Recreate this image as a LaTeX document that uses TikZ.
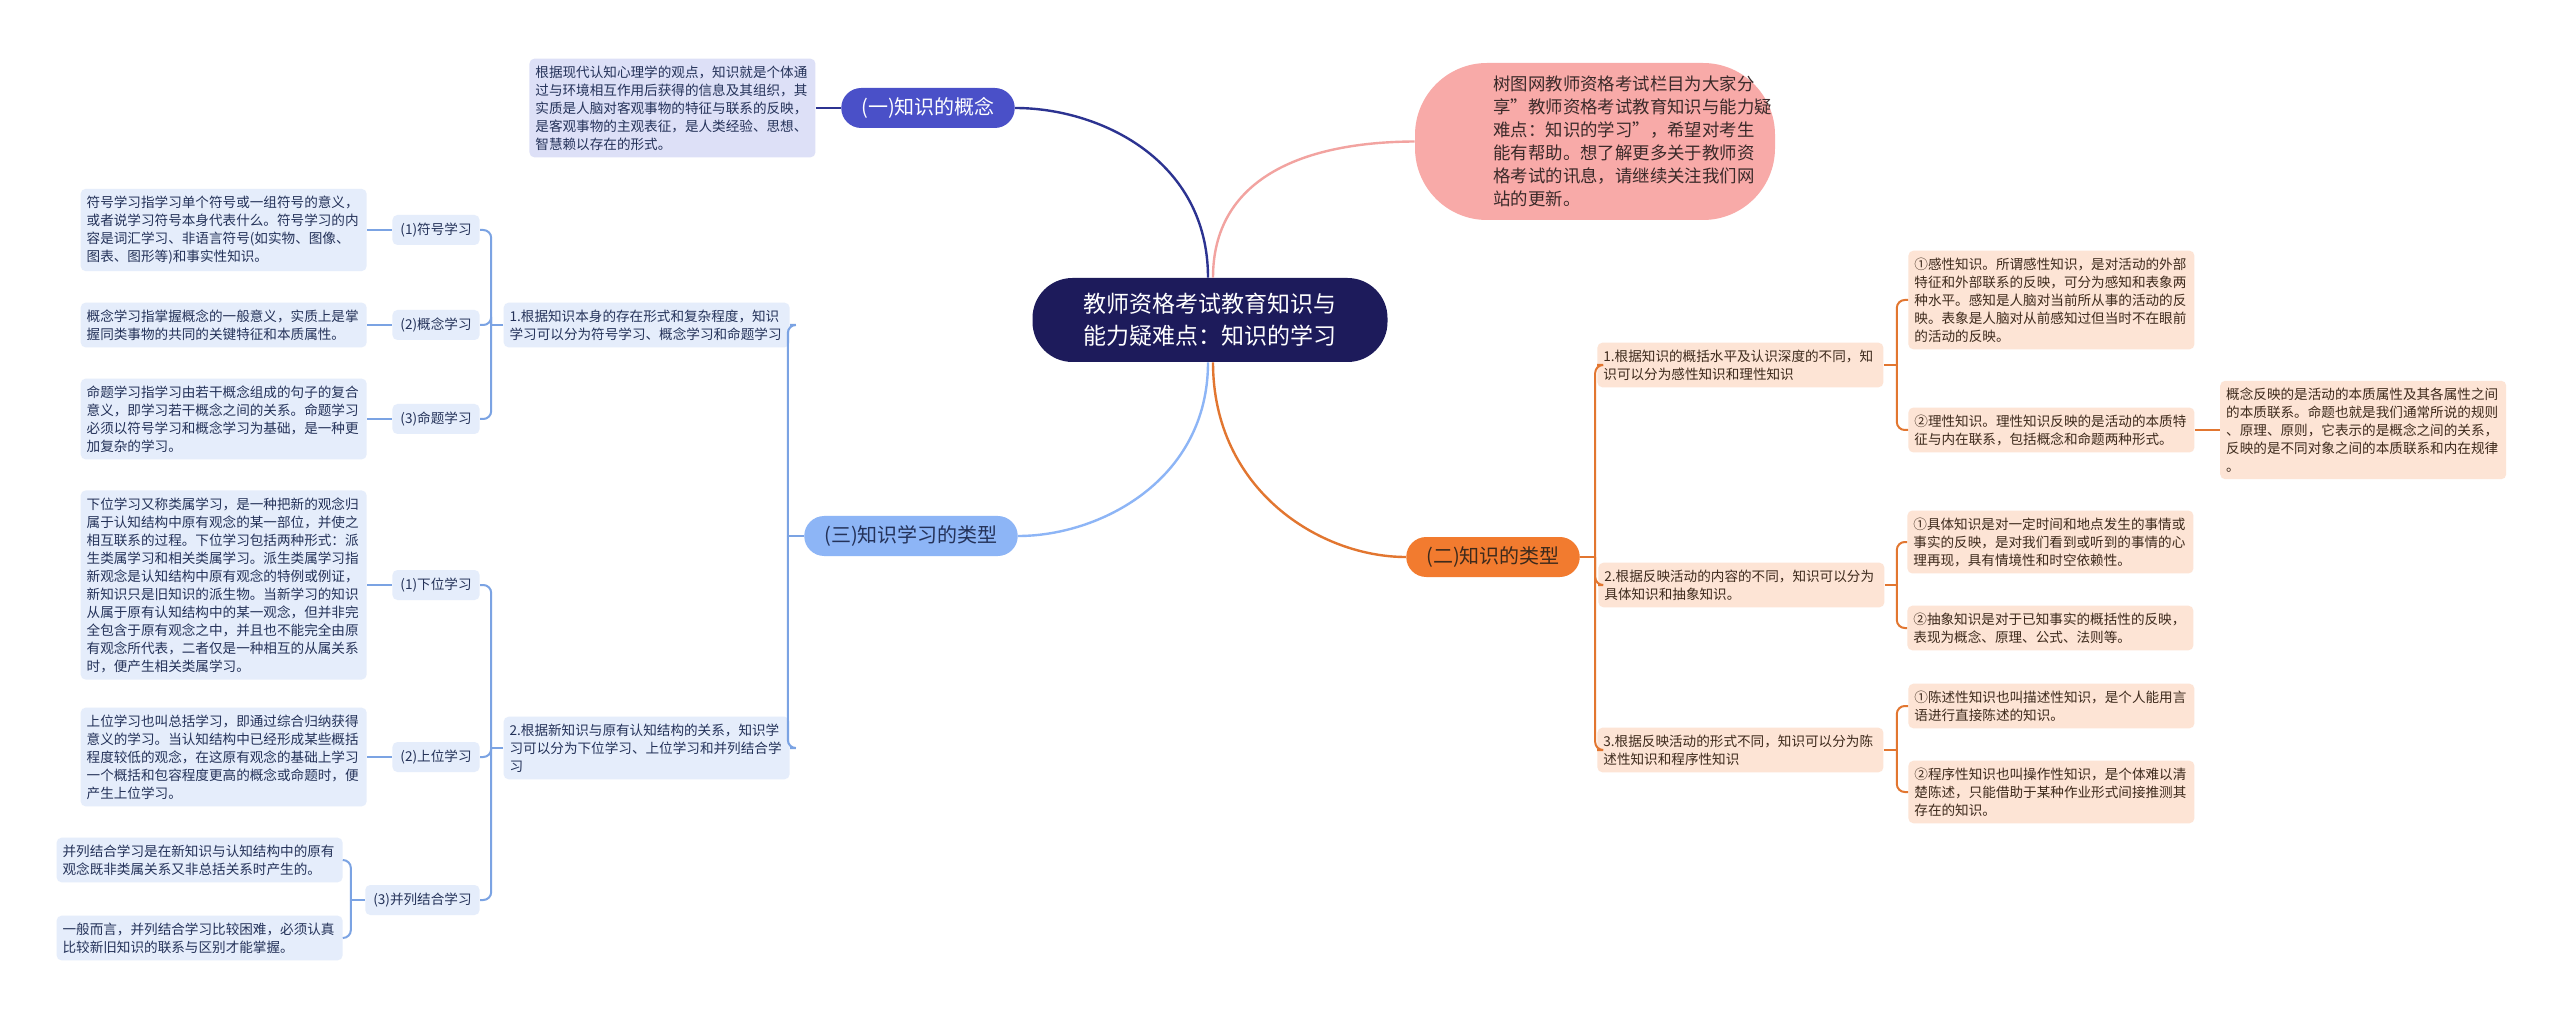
\documentclass[tikz,border=0pt]{standalone}
\usepackage{fontspec}
\setmainfont{Noto Sans CJK SC}
\usepackage{tikz}
\usetikzlibrary{positioning,calc}
\definecolor{rootnavy}{HTML}{1D1B5B}
\definecolor{intropink}{HTML}{F8AAA8}
\definecolor{introink}{HTML}{3B2A2A}
\definecolor{conceptfill}{HTML}{4A50C8}
\definecolor{conceptline}{HTML}{2C3391}
\definecolor{lavpale}{HTML}{DDE0F7}
\definecolor{typesfill}{HTML}{8DB5F6}
\definecolor{bluepale}{HTML}{E5EDFB}
\definecolor{blueline}{HTML}{7BA3E3}
\definecolor{blueink}{HTML}{243259}
\definecolor{kindsfill}{HTML}{F27B2F}
\definecolor{peachpale}{HTML}{FDE4D5}
\definecolor{orangeline}{HTML}{E27630}
\definecolor{peachink}{HTML}{3D2A1C}
\definecolor{pinkline}{HTML}{F2A3A0}
\newcommand{\notefont}{\fontsize{6.8}{9}\selectfont}
\newcommand{\branchfont}{\fontsize{10}{12}\selectfont}
\newcommand{\rootfont}{\fontsize{11.5}{16}\selectfont}
\newcommand{\introfont}{\fontsize{8.7}{11.5}\selectfont}

\begin{document}
\begin{tikzpicture}[
  x=0.5pt, y=-0.5pt,
  rootbox/.style={fill=rootnavy, text=white, rounded corners=20pt, align=center, font=\rootfont, minimum width=177.5pt, minimum height=42pt},
  introshape/.style={fill=intropink, rounded corners=36pt, minimum width=180pt, minimum height=78.5pt, inner sep=0pt},
  introtext/.style={align=left, font=\introfont, text=introink, inner sep=0pt},
  branch/.style={rounded corners=10pt, font=\branchfont, minimum height=20pt, inner xsep=10pt, inner ysep=0pt},
  lavnote/.style={fill=lavpale, text=blueink, rounded corners=2.5pt, font=\notefont, align=left, text width=137pt, inner xsep=3pt, inner ysep=3.5pt},
  bluenote/.style={lavnote, fill=bluepale},
  bluetag/.style={fill=bluepale, text=blueink, rounded corners=2.5pt, font=\notefont, minimum height=15pt, inner xsep=4pt, inner ysep=0pt},
  peachnote/.style={lavnote, fill=peachpale, text=peachink},
  navylink/.style={draw=conceptline, line width=1.2pt},
  pinklink/.style={draw=pinkline, line width=1.2pt},
  skylink/.style={draw=typesfill, line width=1.2pt},
  bluelink/.style={draw=blueline, line width=1pt, rounded corners=4pt},
  orangelink/.style={draw=orangeline, line width=1pt, rounded corners=4pt}
]
  \fill[white] (0,0) rectangle (2560,1021);
  \useasboundingbox (0,0) rectangle (2560,1021);

  \node[rootbox] (root) at (1210,320) {教师资格考试教育知识与\\能力疑难点：知识的学习};

  \node[introshape] (introbg) at (1595,141.5) {};
  \node[introtext, anchor=west] (intro) at (1493,141.5) {树图网教师资格考试栏目为大家分\\享"教师资格考试教育知识与能力疑\\难点：知识的学习"，希望对考生\\能有帮助。想了解更多关于教师资\\格考试的讯息，请继续关注我们网\\站的更新。};

  \node[branch, fill=conceptfill, text=white] (concept) at (928,108) {(一)知识的概念};
  \node[lavnote, left=12.5pt of concept] (conceptnote) {根据现代认知心理学的观点，知识就是个体通\\过与环境相互作用后获得的信息及其组织，其\\实质是人脑对客观事物的特征与联系的反映，\\是客观事物的主观表征，是人类经验、思想、\\智慧赖以存在的形式。};

  \node[branch, fill=typesfill, text=blueink] (types) at (911,536) {(三)知识学习的类型};
  \node[bluenote, anchor=east] (byshape) at (790,325) {1.根据知识本身的存在形式和复杂程度，知识\\学习可以分为符号学习、概念学习和命题学习};
  \node[bluenote, anchor=east] (byrelation) at (790,748) {2.根据新知识与原有认知结构的关系，知识学\\习可以分为下位学习、上位学习和并列结合学\\习};

  \node[bluetag, anchor=east] (symbolic) at (480,230) {(1)符号学习};
  \node[bluetag, anchor=east] (conceptual) at (480,325) {(2)概念学习};
  \node[bluetag, anchor=east] (propositional) at (480,419) {(3)命题学习};
  \node[bluenote, left=12.5pt of symbolic] (symbolicnote) {符号学习指学习单个符号或一组符号的意义，\\或者说学习符号本身代表什么。符号学习的内\\容是词汇学习、非语言符号(如实物、图像、\\图表、图形等)和事实性知识。};
  \node[bluenote, left=12.5pt of conceptual] (conceptualnote) {概念学习指掌握概念的一般意义，实质上是掌\\握同类事物的共同的关键特征和本质属性。};
  \node[bluenote, left=12.5pt of propositional] (propositionalnote) {命题学习指学习由若干概念组成的句子的复合\\意义，即学习若干概念之间的关系。命题学习\\必须以符号学习和概念学习为基础，是一种更\\加复杂的学习。};

  \node[bluetag, anchor=east] (subordinate) at (480,585) {(1)下位学习};
  \node[bluetag, anchor=east] (superordinate) at (480,757) {(2)上位学习};
  \node[bluetag, anchor=east] (combinatorial) at (480,900) {(3)并列结合学习};
  \node[bluenote, left=12.5pt of subordinate] (subordinatenote) {下位学习又称类属学习，是一种把新的观念归\\属于认知结构中原有观念的某一部位，并使之\\相互联系的过程。下位学习包括两种形式：派\\生类属学习和相关类属学习。派生类属学习指\\新观念是认知结构中原有观念的特例或例证，\\新知识只是旧知识的派生物。当新学习的知识\\从属于原有认知结构中的某一观念，但并非完\\全包含于原有观念之中，并且也不能完全由原\\有观念所代表，二者仅是一种相互的从属关系\\时，便产生相关类属学习。};
  \node[bluenote, left=12.5pt of superordinate] (superordinatenote) {上位学习也叫总括学习，即通过综合归纳获得\\意义的学习。当认知结构中已经形成某些概括\\程度较低的观念，在这原有观念的基础上学习\\一个概括和包容程度更高的概念或命题时，便\\产生上位学习。};
  \node[bluenote, anchor=east] (combinatorialnote) at (343,860) {并列结合学习是在新知识与认知结构中的原有\\观念既非类属关系又非总括关系时产生的。};
  \node[bluenote, anchor=east] (combinatorialhard) at (343,938) {一般而言，并列结合学习比较困难，必须认真\\比较新旧知识的联系与区别才能掌握。};

  \node[branch, fill=kindsfill, text=peachink] (kinds) at (1493,557) {(二)知识的类型};
  \node[peachnote, anchor=west] (bylevel) at (1597,365) {1.根据知识的概括水平及认识深度的不同，知\\识可以分为感性知识和理性知识};
  \node[peachnote, anchor=west] (bycontent) at (1598,585) {2.根据反映活动的内容的不同，知识可以分为\\具体知识和抽象知识。};
  \node[peachnote, anchor=west] (byform) at (1597,750) {3.根据反映活动的形式不同，知识可以分为陈\\述性知识和程序性知识};

  \node[peachnote, anchor=west] (perceptual) at (1908,300) {①感性知识。所谓感性知识，是对活动的外部\\特征和外部联系的反映，可分为感知和表象两\\种水平。感知是人脑对当前所从事的活动的反\\映。表象是人脑对从前感知过但当时不在眼前\\的活动的反映。};
  \node[peachnote, anchor=west] (rational) at (1908,430) {②理性知识。理性知识反映的是活动的本质特\\征与内在联系，包括概念和命题两种形式。};
  \node[peachnote, right=12.5pt of rational] (rationalnote) {概念反映的是活动的本质属性及其各属性之间\\的本质联系。命题也就是我们通常所说的规则\\、原理、原则，它表示的是概念之间的关系，\\反映的是不同对象之间的本质联系和内在规律\\。};
  \node[peachnote, anchor=west] (concrete) at (1907,542) {①具体知识是对一定时间和地点发生的事情或\\事实的反映，是对我们看到或听到的事情的心\\理再现，具有情境性和时空依赖性。};
  \node[peachnote, anchor=west] (abstract) at (1907,628) {②抽象知识是对于已知事实的概括性的反映，\\表现为概念、原理、公式、法则等。};
  \node[peachnote, anchor=west] (declarative) at (1908,706) {①陈述性知识也叫描述性知识，是个人能用言\\语进行直接陈述的知识。};
  \node[peachnote, anchor=west] (procedural) at (1908,792) {②程序性知识也叫操作性知识，是个体难以清\\楚陈述，只能借助于某种作业形式间接推测其\\存在的知识。};

  \draw[navylink] ($(root.north)+(-2,0)$) .. controls (1208,160) and (1100,108) .. (concept.east);
  \draw[pinklink] ($(root.north)+(3,0)$) .. controls (1213,180) and (1300,142) .. (introbg.west);
  \draw[skylink] ($(root.south)+(-2,0)$) .. controls (1208,480) and (1100,536) .. (types.east);
  \draw[orangeline, line width=1.2pt] ($(root.south)+(3,0)$) .. controls (1213,490) and (1320,557) .. (kinds.west);

  \draw[navylink] (conceptnote.east) -- (concept.west);

  \coordinate (typesjoin) at ($(types.west)+(-16,0)$);
  \draw[bluelink] (types.west) -- (typesjoin);
  \draw[bluelink] (byshape.east) -| (typesjoin);
  \draw[bluelink] (byrelation.east) -| (typesjoin);

  \coordinate (shapejoin) at ($(byshape.west)+(-12,0)$);
  \draw[bluelink] (byshape.west) -- (shapejoin);
  \draw[bluelink] (symbolic.east) -| (shapejoin);
  \draw[bluelink] (conceptual.east) -| (shapejoin);
  \draw[bluelink] (propositional.east) -| (shapejoin);
  \draw[bluelink] (symbolicnote.east) -- (symbolic.west);
  \draw[bluelink] (conceptualnote.east) -- (conceptual.west);
  \draw[bluelink] (propositionalnote.east) -- (propositional.west);

  \coordinate (relationjoin) at ($(byrelation.west)+(-12,0)$);
  \draw[bluelink] (byrelation.west) -- (relationjoin);
  \draw[bluelink] (subordinate.east) -| (relationjoin);
  \draw[bluelink] (superordinate.east) -| (relationjoin);
  \draw[bluelink] (combinatorial.east) -| (relationjoin);
  \draw[bluelink] (subordinatenote.east) -- (subordinate.west);
  \draw[bluelink] (superordinatenote.east) -- (superordinate.west);

  \coordinate (combjoin) at ($(combinatorial.west)+(-14,0)$);
  \draw[bluelink] (combinatorial.west) -- (combjoin);
  \draw[bluelink] (combinatorialnote.east) -| (combjoin);
  \draw[bluelink] (combinatorialhard.east) -| (combjoin);

  \coordinate (kindsjoin) at ($(kinds.east)+(15,0)$);
  \draw[orangelink] (kinds.east) -- (kindsjoin);
  \draw[orangelink] (bylevel.west) -| (kindsjoin);
  \draw[orangelink] (bycontent.west) -| (kindsjoin);
  \draw[orangelink] (byform.west) -| (kindsjoin);

  \coordinate (leveljoin) at ($(bylevel.east)+(13,0)$);
  \draw[orangelink] (bylevel.east) -- (leveljoin);
  \draw[orangelink] (perceptual.west) -| (leveljoin);
  \draw[orangelink] (rational.west) -| (leveljoin);
  \draw[orangelink] (rational.east) -- (rationalnote.west);

  \coordinate (contentjoin) at ($(bycontent.east)+(12,0)$);
  \draw[orangelink] (bycontent.east) -- (contentjoin);
  \draw[orangelink] (concrete.west) -| (contentjoin);
  \draw[orangelink] (abstract.west) -| (contentjoin);

  \coordinate (formjoin) at ($(byform.east)+(13,0)$);
  \draw[orangelink] (byform.east) -- (formjoin);
  \draw[orangelink] (declarative.west) -| (formjoin);
  \draw[orangelink] (procedural.west) -| (formjoin);
\end{tikzpicture}
\end{document}
